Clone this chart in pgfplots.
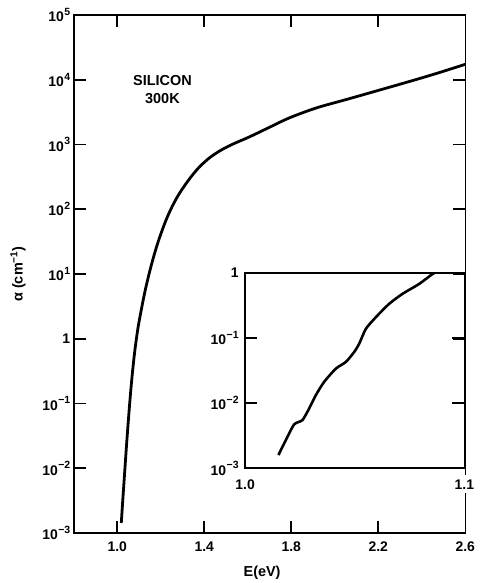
\documentclass[border=0pt]{standalone}
\usepackage{fontspec}
\setmainfont{Liberation Sans}
\usepackage{pgfplots}
\pgfplotsset{compat=1.18}

% exponent set a little larger than \textsuperscript
\newcommand{\ex}[1]{\kern0.5pt\raisebox{0.45em}{\fontsize{10.5}{11}\selectfont\bfseries #1}}

% absorption coefficient of silicon at 300 K: E (eV), alpha (cm^-1)
\pgfplotstableread{
E        alpha
1.01851  1.43e-3
1.03133  6.31e-3
1.04508  2.94e-2
1.05882  0.117
1.07027  0.310
1.08172  0.689
1.09776  1.641
1.12524  4.955
1.14815  10.62
1.17105  20.46
1.19395  36.06
1.22464  68.39
1.25350  111.9
1.28557  175.0
1.33138  292.4
1.37719  447.7
1.42758  635.3
1.48255  837.5
1.53752  1035
1.60623  1303
1.69785  1828
1.78947  2559
1.91315  3648
2.05058  4920
2.18800  6653
2.37124  10000
2.48118  12910
2.60000  17298
}\mainabs

% band-edge detail
\pgfplotstableread{
E        alpha
1.01521  1.60e-3
1.01858  2.71e-3
1.02237  4.72e-3
1.02616  5.50e-3
1.02922  8.30e-3
1.03228  1.33e-2
1.03607  2.13e-2
1.04142  3.40e-2
1.04598  4.31e-2
1.04977  6.12e-2
1.05205  8.20e-2
1.05511  0.139
1.05968  0.210
1.06575  0.337
1.07183  0.479
1.07945  0.681
1.08553  0.968
1.08660  1.0
}\edgeabs

\begin{document}
\begin{tikzpicture}
\path (0pt,0pt) rectangle (482pt,583pt);
\pgfplotsset{
  every axis/.append style={
    scale only axis,
    axis line style={line width=1.6pt},
    major tick style={line width=1.6pt, black},
    minor tick style={draw=none},
    major tick length=12pt,
    tick align=inside,
    ticklabel style={font=\fontsize{14}{16}\selectfont\bfseries},
    label style={font=\fontsize{14.5}{17}\selectfont\bfseries},
  },
}
\begin{axis}[
  at={(74pt,48pt)}, anchor=south west,
  width=393pt, height=520pt,
  xmin=0.8, xmax=2.6,
  ymode=log, ymin=1e-3, ymax=1e5,
  xtick={1.0,1.4,1.8,2.2,2.6},
  xticklabels={1.0,1.4,1.8,2.2,2.6},
  xticklabel style={yshift=-5pt},
  ytick={1e-3,1e-2,1e-1,1,1e1,1e2,1e3,1e4,1e5},
  yticklabels={10\ex{−3},10\ex{−2},10\ex{−1},1,
    10\ex{1},10\ex{2},10\ex{3},10\ex{4},10\ex{5}},
  xlabel={E(eV)},
  ylabel={α (cm\textsuperscript{−1})},
  xlabel style={at={(axis description cs:0.481,-0.077)}, anchor=center},
  ylabel style={at={(axis description cs:-0.1425,0.5)}, anchor=center},
]
\addplot[black, line width=2.8pt, smooth, tension=0.5] table[x=E, y=alpha] {\mainabs};
\node[align=center, font=\fontsize{14.5}{18}\selectfont\bfseries]
  at (axis description cs:0.2265,0.856) {SILICON\\300K};
\end{axis}

\begin{axis}[
  at={(246pt,113pt)}, anchor=south west,
  width=220pt, height=196pt,
  xmin=1.0, xmax=1.1,
  ymode=log, ymin=1e-3, ymax=1,
  xtick={1.0,1.1},
  xticklabels={1.0,1.1},
  xticklabel style={yshift=-7pt, fill=white, inner ysep=4pt},
  ytick={1e-3,1e-2,1e-1,1},
  yticklabels={10\ex{−3},10\ex{−2},10\ex{−1},1},
  yticklabel style={xshift=-3pt},
]
\addplot[black, line width=2.6pt, smooth, tension=0.4] table[x=E, y=alpha] {\edgeabs};
\end{axis}
\end{tikzpicture}
\end{document}
